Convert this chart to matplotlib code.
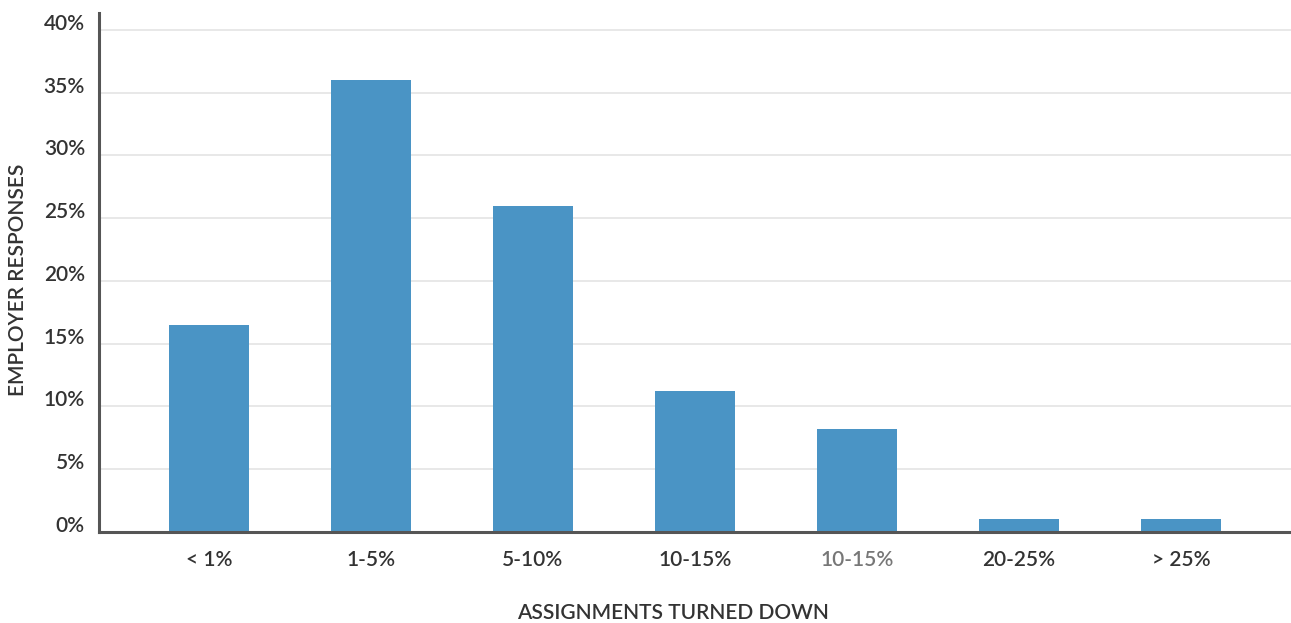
import matplotlib
matplotlib.use("Agg")
import matplotlib.pyplot as plt
import matplotlib.transforms as mtransforms

categories = ["< 1%", "1-5%", "5-10%", "10-15%", "10-15%", "20-25%", "> 25%"]
responses = [16.5, 36.0, 26.0, 11.2, 8.2, 1.0, 1.0]
label_colors = ["#333333", "#333333", "#333333", "#333333", "#777777", "#333333", "#333333"]
y_ticks = [0, 5, 10, 15, 20, 25, 30, 35, 40]

plt.rcParams["font.family"] = ["Lato", "DejaVu Sans"]

W, H = 1291, 623
fig = plt.figure(figsize=(W / 100, H / 100), dpi=100)
ax = fig.add_axes([99 / W, (H - 532) / H, (W - 99) / W, (532 - 13) / H])

x = range(len(categories))
ax.bar(x, responses, width=0.49, color="#4a94c5", zorder=3)

ax.set_xlim(-0.68, len(categories) - 0.32)
ax.set_ylim(0, 41.35)
ax.set_yticks(y_ticks)
ax.set_yticklabels([])
ax.set_xticks(list(x))
ax.set_xticklabels(categories)

ax.grid(axis="y", color="#e6e6e6", linewidth=1.3, zorder=0)
ax.tick_params(axis="both", length=0, labelsize=15, colors="#333333")
ax.tick_params(axis="x", pad=13)
for lbl, c in zip(ax.get_xticklabels(), label_colors):
    lbl.set_color(c)
    lbl.set_fontweight("semibold")

# y labels, right-aligned left of the axis and sitting slightly above their gridlines
ylab_tf = ax.get_yaxis_transform() + mtransforms.ScaledTranslation(-14 / 100, 6 / 100, fig.dpi_scale_trans)
for v in y_ticks:
    ax.text(0, v, f"{v}%", transform=ylab_tf, ha="right", va="center",
            fontsize=15, fontweight="semibold", color="#333333")

for side in ("top", "right"):
    ax.spines[side].set_visible(False)
for side in ("left", "bottom"):
    ax.spines[side].set_color("#555555")
    ax.spines[side].set_linewidth(2.2)
    ax.spines[side].set_zorder(4)

fig.text(18 / W, (H - 280) / H, "EMPLOYER RESPONSES", rotation=90,
         ha="center", va="center", fontsize=15, fontweight="semibold", color="#333333")
fig.text(673 / W, (H - 613) / H, "ASSIGNMENTS TURNED DOWN",
         ha="center", va="center", fontsize=15, fontweight="semibold", color="#333333")

fig.savefig("out.png", dpi=100)
